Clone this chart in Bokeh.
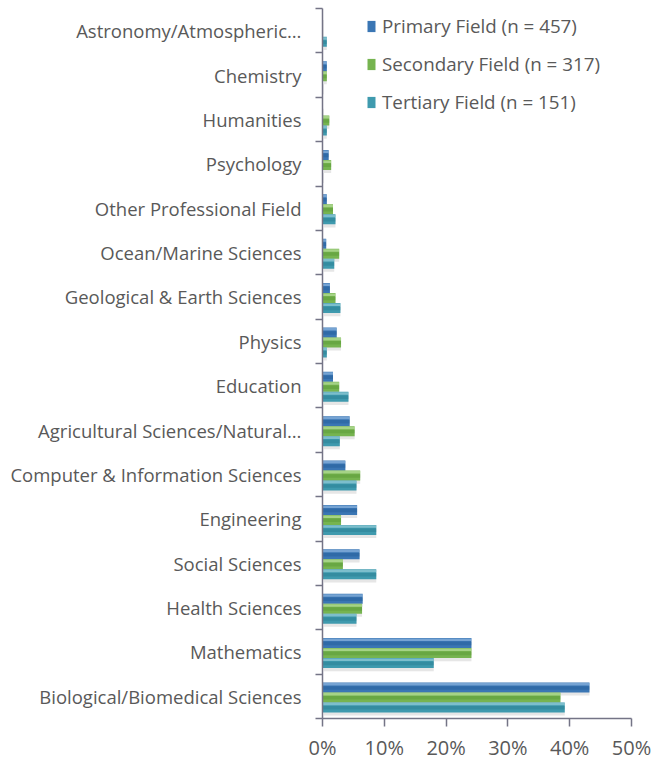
from bokeh.plotting import figure
from bokeh.models import (ColumnDataSource, Range1d, FixedTicker, NumeralTickFormatter,
                          Legend, LegendItem)
from bokeh.transform import dodge
from bokeh.embed import file_html
from bokeh.resources import INLINE

# categories listed bottom to top
categories = [
    "Biological/Biomedical Sciences",
    "Mathematics",
    "Health Sciences",
    "Social Sciences",
    "Engineering",
    "Computer & Information Sciences",
    "Agricultural Sciences/Natural…",
    "Education",
    "Physics",
    "Geological & Earth Sciences",
    "Ocean/Marine Sciences",
    "Other Professional Field",
    "Psychology",
    "Humanities",
    "Chemistry",
    "Astronomy/Atmospheric…",
]
primary = [43.2, 24.1, 6.5, 6.0, 5.6, 3.7, 4.4, 1.7, 2.3, 1.2, 0.6, 0.7, 1.0, 0.0, 0.7, 0.0]
secondary = [38.5, 24.1, 6.4, 3.3, 3.0, 6.1, 5.2, 2.7, 3.0, 2.1, 2.7, 1.7, 1.4, 1.1, 0.7, 0.0]
tertiary = [39.2, 18.0, 5.5, 8.7, 8.7, 5.5, 2.8, 4.2, 0.7, 2.9, 1.9, 2.1, 0.0, 0.7, 0.0, 0.7]
series_names = ["Primary Field (n = 457)", "Secondary Field (n = 317)", "Tertiary Field (n = 151)"]
x_ticks = [0, 0.1, 0.2, 0.3, 0.4, 0.5]

TEXT = "#595959"
AXIS = "#747486"
FONT = "Open Sans"

src = ColumnDataSource(dict(
    y=list(range(len(categories))),
    p=[v / 100 for v in primary],
    s=[v / 100 for v in secondary],
    t=[v / 100 for v in tertiary],
))

p = figure(width=652, height=763, output_backend="svg", toolbar_location=None,
           x_range=Range1d(0, 0.5), y_range=Range1d(-0.5, len(categories) - 0.5),
           min_border_left=322, min_border_right=21, min_border_top=8, min_border_bottom=45)
p.outline_line_color = None
p.xgrid.visible = False
p.ygrid.visible = False
p.background_fill_color = "white"
p.border_fill_color = "white"

styles = [
    ("p", 0.20, "#3a76b4", "#8fb6e0", "#1c578f"),
    ("s", -0.025, "#76b450", "#b9df9c", "#4f8f2c"),
    ("t", -0.25, "#3f9aae", "#97cdd8", "#1f7486"),
]
H = 0.225
main_renderers = []
for col, off, main, light, dark in styles:
    # soft shadow
    p.hbar(y=dodge("y", off - 0.07, range=p.y_range), left=0.002, right=col, height=H,
           source=src, fill_color="#9a9a9a", fill_alpha=0.25, line_color=None)
    r = p.hbar(y=dodge("y", off, range=p.y_range), left=0, right=col, height=H,
               source=src, fill_color=main, line_color=None)
    main_renderers.append(r)
    # dark core
    p.hbar(y=dodge("y", off - 0.01, range=p.y_range), left=0, right=col, height=H * 0.35,
           source=src, fill_color=dark, fill_alpha=0.35, line_color=None)
    # top highlight
    p.hbar(y=dodge("y", off + H * 0.33, range=p.y_range), left=0, right=col, height=H * 0.25,
           source=src, fill_color=light, fill_alpha=0.7, line_color=None)

# x axis
xa = p.xaxis[0]
xa.ticker = FixedTicker(ticks=x_ticks)
xa.formatter = NumeralTickFormatter(format="0%")
xa.axis_line_color = AXIS
xa.axis_line_width = 1.5
xa.major_tick_line_color = AXIS
xa.major_tick_line_width = 1.5
xa.major_tick_in = 0
xa.major_tick_out = 8
xa.minor_tick_line_color = None
xa.major_label_text_font = FONT
xa.major_label_text_font_size = "20px"
xa.major_label_text_color = TEXT
xa.major_label_standoff = 7

# y axis
ya = p.yaxis[0]
ya.ticker = FixedTicker(ticks=list(range(len(categories))),
                        minor_ticks=[i - 0.5 for i in range(len(categories) + 1)])
ya.major_label_overrides = {i: c for i, c in enumerate(categories)}
ya.axis_line_color = AXIS
ya.axis_line_width = 1.5
ya.major_tick_line_color = None
ya.major_tick_in = 0
ya.major_tick_out = 0
ya.minor_tick_line_color = AXIS
ya.minor_tick_line_width = 1.5
ya.minor_tick_in = 0
ya.minor_tick_out = 7
ya.major_label_text_font = FONT
ya.major_label_text_font_size = "18.5px"
ya.major_label_text_color = TEXT
ya.major_label_standoff = 14

legend = Legend(items=[LegendItem(label=n, renderers=[r]) for n, r in zip(series_names, main_renderers)],
                location=(44, 603), orientation="vertical",
                label_text_font=FONT, label_text_font_size="18.8px", label_text_color=TEXT,
                glyph_width=10, glyph_height=14, label_height=26, label_standoff=6,
                spacing=12, padding=0, margin=0,
                border_line_color=None, background_fill_alpha=0)
p.add_layout(legend)

open("out.html", "w").write(file_html(p, INLINE))
